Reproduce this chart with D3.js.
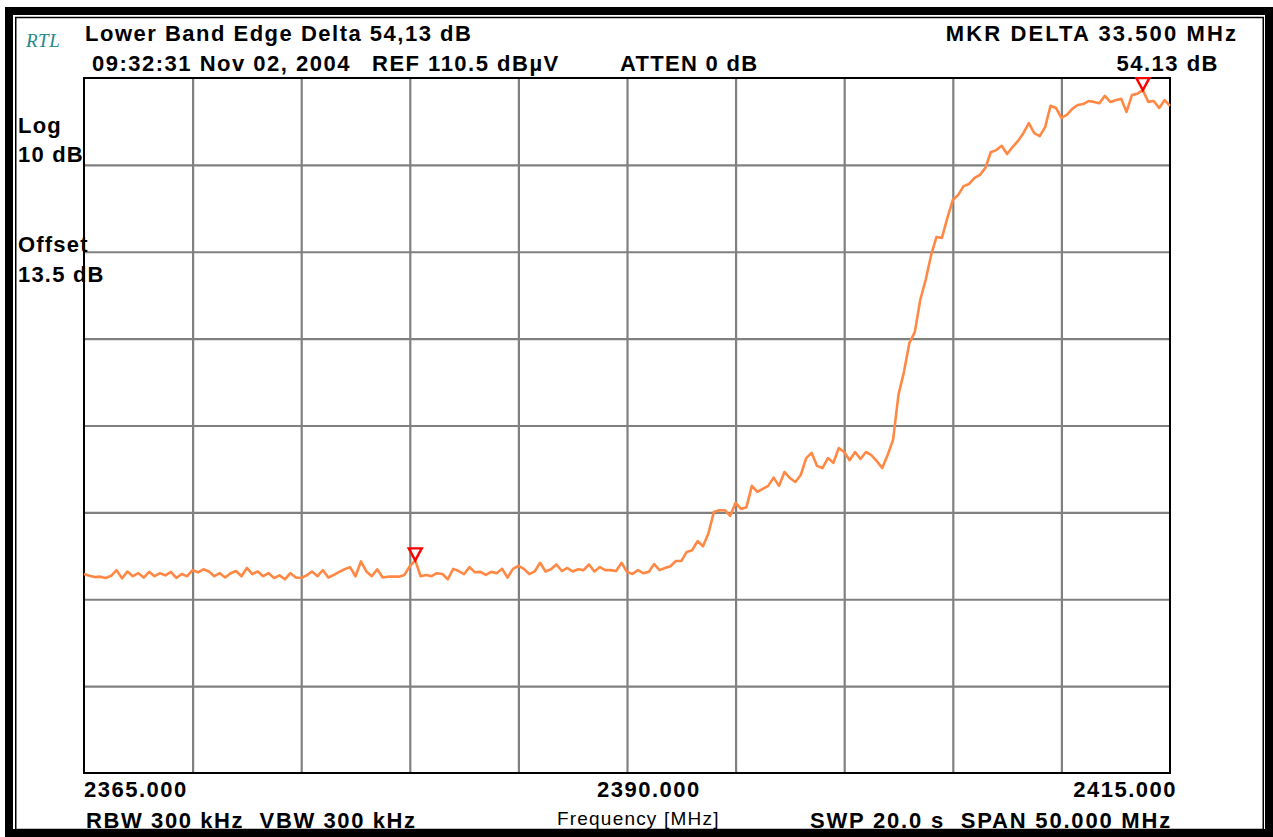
<!DOCTYPE html>
<html>
<head>
<meta charset="utf-8">
<script src="https://cdn.jsdelivr.net/npm/d3@7"></script>
<style>
  html, body { margin: 0; padding: 0; background: #fff; }
  svg { display: block; }
  text { font-family: "Liberation Sans", Arial, Helvetica, sans-serif; white-space: pre; }
</style>
</head>
<body>
<svg id="chart" width="1273" height="837"></svg>
<script>
// Sweep settings
const sweepStart = 2365;      // MHz
const sweepStop = 2415;       // MHz
const sweepStep = 0.25;       // MHz per trace point
const refLevel = 110.5;       // dBµV at top graticule line
const dbPerDiv = 10;
const yDivisions = 8;
const xDivisions = 10;

// Measured trace, dBµV, one value per sweep step from 2365 MHz
const traceLevels = [
  53.4, 53.2, 53.05, 53.1, 52.95, 53.2, 53.85, 52.9, 53.7, 53.15,
  53.5, 53.0, 53.65, 53.15, 53.5, 53.25, 53.65, 52.95, 53.4, 53.15,
  53.85, 53.6, 53.95, 53.7, 53.15, 53.5, 53.0, 53.5, 53.75, 53.15,
  54.1, 53.4, 53.7, 53.15, 53.5, 52.95, 53.25, 52.8, 53.5, 53.0,
  52.95, 53.25, 53.7, 53.15, 53.85, 53.0, 53.3, 53.65, 53.95, 54.2,
  53.15, 54.85, 53.7, 53.15, 53.95, 53.0, 53.1, 53.1, 53.1, 53.3,
  54.3, 54.97, 53.15, 53.3, 53.15, 53.5, 53.4, 52.8, 54.0, 53.75,
  53.4, 54.2, 53.6, 53.65, 53.3, 53.65, 53.5, 54.0, 53.0, 54.0,
  54.35, 54.0, 53.4, 53.7, 54.7, 53.7, 53.95, 54.5, 53.75, 54.1,
  53.7, 53.95, 53.85, 54.5, 53.7, 54.2, 53.85, 53.85, 53.75, 54.7,
  53.65, 53.4, 53.85, 53.5, 53.65, 54.55, 53.85, 54.1, 54.3, 54.9,
  54.9, 55.95, 56.15, 57.2, 56.6, 58.1, 60.55, 60.75, 60.75, 60.1,
  61.6, 60.9, 61.1, 63.55, 62.85, 63.2, 63.55, 64.5, 63.55, 65.15,
  64.45, 64.0, 64.8, 66.75, 67.35, 65.85, 65.6, 66.75, 66.2, 67.9,
  67.45, 66.5, 67.45, 66.65, 67.45, 67.1, 66.4, 65.6, 67.1, 68.85,
  74.05, 76.65, 80.0, 81.25, 84.95, 87.25, 90.1, 92.2, 92.1, 94.4,
  96.45, 97.05, 98.05, 98.3, 99.0, 99.35, 100.15, 101.95, 102.2, 102.7,
  101.75, 102.55, 103.25, 104.15, 105.3, 104.15, 103.8, 104.85, 107.3, 107.05,
  105.9, 106.25, 106.95, 107.4, 107.5, 107.85, 107.75, 107.6, 108.45, 107.75,
  107.95, 108.1, 106.6, 108.55, 108.7, 109.1, 107.75, 107.85, 107.05, 107.95,
  107.3
];

// Delta marker pair (reference marker, delta marker), MHz
const markerFreqs = [2380.25, 2413.75];

// Frequency annotations under the graticule
const freqLabelValues = [2365, 2390, 2415];
const freqLabels = ["2365.000", "2390.000", "2415.000"];

// Header / footer annotation texts
const titleText = "Lower Band Edge Delta 54,13 dB";
const stampText = "09:32:31 Nov 02, 2004";
const refText = "REF 110.5 dBµV";
const attenText = "ATTEN 0 dB";
const markerDeltaFreqText = "MKR DELTA 33.500 MHz";
const markerDeltaLevelText = "54.13 dB";
const sideLabels = ["Log", "10 dB", "Offset", "13.5 dB"];
const bwText = "RBW 300 kHz  VBW 300 kHz";
const axisTitle = "Frequency [MHz]";
const sweepText = "SWP 20.0 s  SPAN 50.000 MHz";

const svg = d3.select("#chart");
const plot = { left: 84, right: 1170, top: 78, bottom: 773 };

const x = d3.scaleLinear().domain([sweepStart, sweepStop]).range([plot.left, plot.right]);
const y = d3.scaleLinear()
  .domain([refLevel - dbPerDiv * yDivisions, refLevel])
  .range([plot.bottom, plot.top]);

const trace = traceLevels.map((v, i) => ({ f: sweepStart + i * sweepStep, v }));

// Instrument frame: heavy outer border with thin inner rule
svg.append("rect").attr("x", 9).attr("y", 11).attr("width", 1260).attr("height", 822)
  .attr("fill", "none").attr("stroke", "#000").attr("stroke-width", 8);
svg.append("rect").attr("x", 15.75).attr("y", 17.5).attr("width", 1247.5).attr("height", 812)
  .attr("fill", "none").attr("stroke", "#000").attr("stroke-width", 1.5);

// Graticule
const xGridVals = d3.range(1, xDivisions).map(k => sweepStart + k * (sweepStop - sweepStart) / xDivisions);
const yGridVals = d3.range(1, yDivisions).map(k => refLevel - k * dbPerDiv);

const gx = svg.append("g")
  .attr("transform", `translate(0,${plot.bottom})`)
  .call(d3.axisBottom(x).tickValues(xGridVals).tickSize(-(plot.bottom - plot.top)).tickFormat(""));
const gy = svg.append("g")
  .attr("transform", `translate(${plot.left},0)`)
  .call(d3.axisLeft(y).tickValues(yGridVals).tickSize(-(plot.right - plot.left)).tickFormat(""));
[gx, gy].forEach(g => {
  g.select(".domain").remove();
  g.selectAll(".tick line").attr("stroke", "#808080").attr("stroke-width", 2.2);
});

svg.append("rect")
  .attr("x", plot.left).attr("y", plot.top)
  .attr("width", plot.right - plot.left).attr("height", plot.bottom - plot.top)
  .attr("fill", "none").attr("stroke", "#000").attr("stroke-width", 2);

// Trace
const line = d3.line().x(d => x(d.f)).y(d => y(d.v));
svg.append("path")
  .datum(trace)
  .attr("d", line)
  .attr("fill", "none")
  .attr("stroke", "#ff8844")
  .attr("stroke-width", 2.6)
  .attr("stroke-linejoin", "round");

// Markers: open downward triangles whose tip sits on the trace
const markerPts = markerFreqs.map(f => {
  const i = Math.round((f - sweepStart) / sweepStep);
  return { f, v: traceLevels[i] };
});
svg.selectAll(".marker")
  .data(markerPts)
  .join("path")
  .attr("class", "marker")
  .attr("d", d => {
    const cx = x(d.f), cy = y(d.v);
    return `M${cx},${cy} L${cx - 6.5},${cy - 12} L${cx + 6.5},${cy - 12} Z`;
  })
  .attr("fill", "none")
  .attr("stroke", "#ff0000")
  .attr("stroke-width", 2.4)
  .attr("stroke-linejoin", "miter");

// Text helper
function label(str, xPos, yPos, opts = {}) {
  return svg.append("text")
    .attr("x", xPos).attr("y", yPos)
    .attr("font-size", opts.size || 22)
    .attr("font-weight", opts.weight || "bold")
    .attr("letter-spacing", opts.ls != null ? opts.ls : 1.5)
    .attr("text-anchor", opts.anchor || "start")
    .attr("fill", opts.fill || "#000")
    .style("font-family", opts.family || null)
    .style("font-style", opts.style || null)
    .text(str);
}

// Header
label("RTL", 26, 47, { size: 19, weight: "normal", ls: 0.5, fill: "#23898a",
  family: "'Liberation Serif', 'Times New Roman', serif", style: "italic" });
label(titleText, 85, 41);
label(stampText, 92, 71);
label(refText, 372, 71);
label(attenText, 620, 71, { ls: 1.3 });
label(markerDeltaFreqText, 1238, 41, { anchor: "end", ls: 2.1 });
label(markerDeltaLevelText, 1219, 71, { anchor: "end" });

// Side annotations
const sideY = [133, 162, 252, 282];
sideLabels.forEach((s, i) => label(s, 18, sideY[i], { ls: 1.2 }));

// Frequency annotations
label(freqLabels[0], x(freqLabelValues[0]), 797);
label(freqLabels[1], x(freqLabelValues[1]) - 30, 797);
label(freqLabels[2], x(freqLabelValues[2]) + 7, 797, { anchor: "end" });

// Footer
label(bwText, 86, 828, { ls: 1.6 });
label(axisTitle, 557, 825, { size: 19, weight: "normal", ls: 1.2 });
label(sweepText, 1172, 828, { anchor: "end", ls: 1.8 });
</script>
</body>
</html>
